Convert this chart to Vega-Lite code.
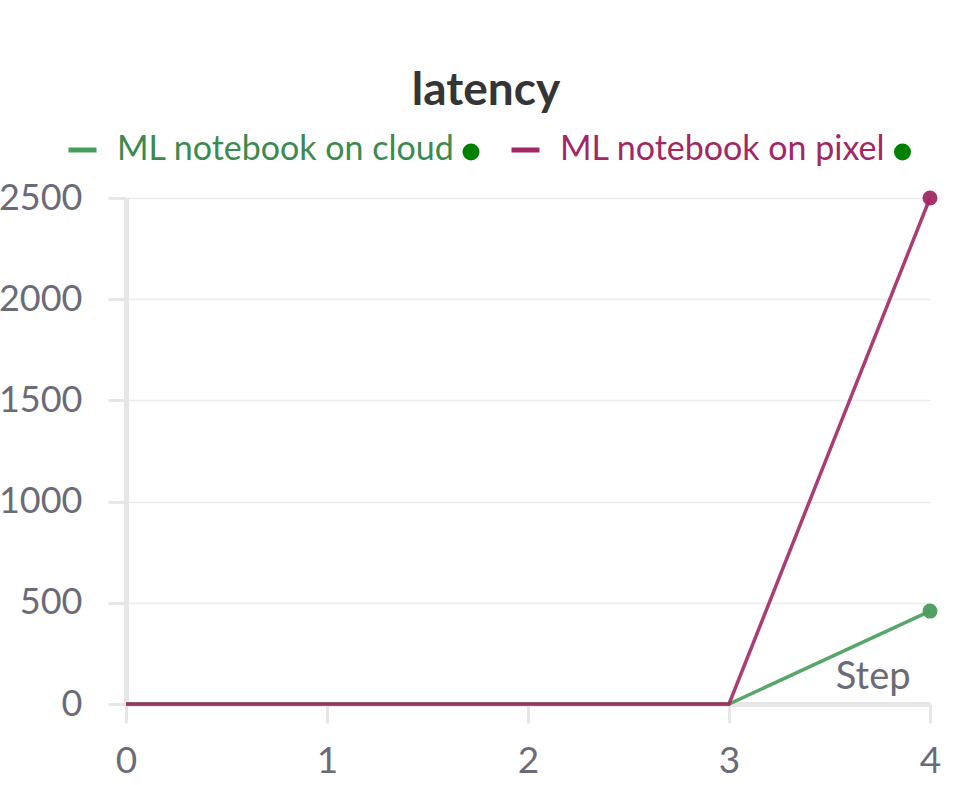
{
  "$schema": "https://vega.github.io/schema/vega-lite/v6.json",
  "width": 804,
  "height": 506,
  "autosize": "none",
  "padding": {"left": 126, "top": 198, "right": 41, "bottom": 81},
  "background": "white",
  "title": {"text": "latency", "font": "Lato", "fontSize": 46, "fontWeight": "bold", "color": "#353535", "anchor": "middle", "dx": -42, "offset": 18},
  "config": {
    "view": {"stroke": null},
    "font": "Lato",
    "legend": {"orient": "none", "direction": "horizontal", "title": null, "padding": 0, "labelFontSize": 34, "labelLimit": 0, "symbolOpacity": 1}
  },
  "data": {"values": [
    {"step": 0, "latency": 0, "series": "ML notebook on cloud"},
    {"step": 1, "latency": 0, "series": "ML notebook on cloud"},
    {"step": 2, "latency": 0, "series": "ML notebook on cloud"},
    {"step": 3, "latency": 0, "series": "ML notebook on cloud"},
    {"step": 4, "latency": 459, "series": "ML notebook on cloud"},
    {"step": 0, "latency": 0, "series": "ML notebook on pixel"},
    {"step": 1, "latency": 0, "series": "ML notebook on pixel"},
    {"step": 2, "latency": 0, "series": "ML notebook on pixel"},
    {"step": 3, "latency": 0, "series": "ML notebook on pixel"},
    {"step": 4, "latency": 2500, "series": "ML notebook on pixel"}
  ]},
  "encoding": {
    "x": {"field": "step", "type": "quantitative", "scale": {"domain": [0, 4], "nice": false},
      "axis": {"title": "Step", "values": [0, 1, 2, 3, 4], "format": "d", "grid": false, "labelFlush": false,
        "domainColor": "#e6e6e6", "domainWidth": 5, "tickColor": "#e6e6e6", "tickWidth": 3, "tickSize": 19,
        "labelFontSize": 37, "labelColor": "#6b6b78", "labelPadding": 20,
        "titleX": 784, "titleY": -16, "titleAlign": "right", "titleBaseline": "alphabetic", "titleFontSize": 38, "titleFontWeight": "normal", "titleColor": "#6b6b78",
        "encode": {"ticks": {"update": {"y": {"value": -17}}}}}},
    "y": {"field": "latency", "type": "quantitative", "scale": {"domain": [0, 2500], "nice": false},
      "axis": {"title": null, "values": [0, 500, 1000, 1500, 2000, 2500], "format": "d", "grid": true, "gridColor": "#ebebeb", "gridWidth": 1.5,
        "domainColor": "#e6e6e6", "domainWidth": 5, "tickColor": "#e6e6e6", "tickWidth": 3, "tickSize": 18,
        "labelFontSize": 36, "labelColor": "#6b6b78", "labelPadding": 26,
        "encode": {"ticks": {"update": {"x": {"value": 18}}}}}}
  },
  "resolve": {"scale": {"color": "independent", "shape": "independent"}},
  "layer": [
    {
      "transform": [{"filter": "datum.series === 'ML notebook on cloud'"}],
      "mark": {"type": "line", "strokeWidth": 3.5, "opacity": 0.9},
      "encoding": {
        "color": {"field": "series", "type": "nominal",
          "scale": {"domain": ["ML notebook on cloud"], "range": ["#479c5b"]},
          "legend": {"legendX": -60.5, "legendY": -65, "symbolType": "stroke", "symbolSize": 784, "symbolStrokeWidth": 5, "labelOffset": 17.5, "labelColor": "#3d8a50"}}
      }
    },
    {
      "transform": [{"filter": "datum.series === 'ML notebook on pixel'"}],
      "mark": {"type": "line", "strokeWidth": 3.5, "opacity": 0.9},
      "encoding": {
        "color": {"field": "series", "type": "nominal",
          "scale": {"domain": ["ML notebook on pixel"], "range": ["#a12864"]},
          "legend": {"legendX": 382.5, "legendY": -65, "symbolType": "stroke", "symbolSize": 784, "symbolStrokeWidth": 5, "labelOffset": 17.5, "labelColor": "#a12864"}}
      }
    },
    {
      "transform": [{"filter": "datum.step === 4 && datum.series === 'ML notebook on cloud'"}],
      "mark": {"type": "point", "filled": true, "size": 225, "opacity": 0.95},
      "encoding": {
        "color": {"field": "series", "type": "nominal", "scale": {"domain": ["ML notebook on cloud", "ML notebook on pixel"], "range": ["#479c5b", "#a12864"]}, "legend": null},
        "shape": {"field": "series", "type": "nominal", "scale": {"domain": ["ML notebook on cloud"], "range": ["circle"]},
          "legend": {"legendX": 328, "legendY": -63, "symbolSize": 289, "symbolFillColor": "#008000", "symbolStrokeColor": "#008000", "symbolStrokeWidth": 0, "labelExpr": "''", "labelOffset": 0}}
      }
    },
    {
      "transform": [{"filter": "datum.step === 4 && datum.series === 'ML notebook on pixel'"}],
      "mark": {"type": "point", "filled": true, "size": 225, "opacity": 0.95},
      "encoding": {
        "color": {"field": "series", "type": "nominal", "scale": {"domain": ["ML notebook on cloud", "ML notebook on pixel"], "range": ["#479c5b", "#a12864"]}, "legend": null},
        "shape": {"field": "series", "type": "nominal", "scale": {"domain": ["ML notebook on pixel"], "range": ["circle"]},
          "legend": {"legendX": 759.5, "legendY": -63, "symbolSize": 289, "symbolFillColor": "#008000", "symbolStrokeColor": "#008000", "symbolStrokeWidth": 0, "labelExpr": "''", "labelOffset": 0}}
      }
    }
  ]
}
